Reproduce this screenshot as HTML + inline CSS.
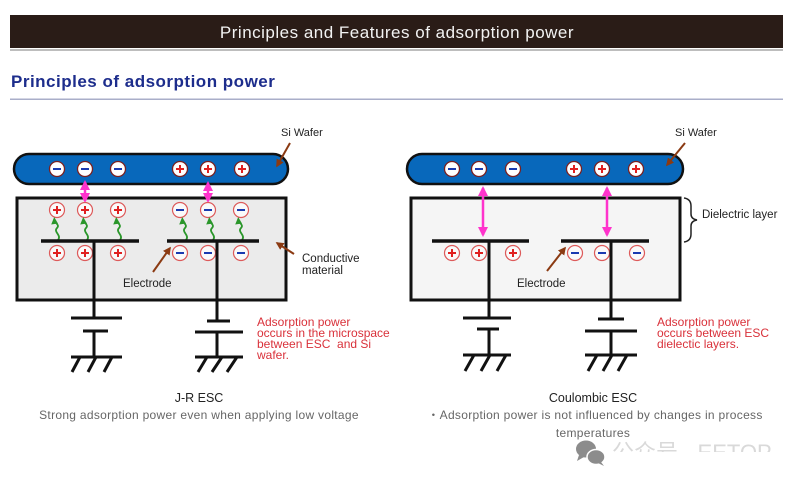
<!DOCTYPE html>
<html><head><meta charset="utf-8"><style>
html,body{margin:0;padding:0;background:#fff;}
body{width:800px;height:485px;overflow:hidden;position:relative;}
svg{position:absolute;left:0;top:0;}
text{font-family:"Liberation Sans","Noto Sans CJK SC",sans-serif;}
</style></head><body>
<svg width="800" height="485" viewBox="0 0 800 485" xmlns="http://www.w3.org/2000/svg">
<defs>
<marker id="pk" viewBox="0 0 10 10" refX="8" refY="5" markerWidth="4" markerHeight="4" orient="auto-start-reverse" markerUnits="strokeWidth"><path d="M0,0 L10,5 L0,10 z" fill="#ff33cc"/></marker>
<marker id="br" viewBox="0 0 10 10" refX="8" refY="5" markerWidth="4" markerHeight="4" orient="auto" markerUnits="strokeWidth"><path d="M0,0 L10,5 L0,10 z" fill="#8b3a12"/></marker>
<g id="wm"><circle r="7.5" fill="#fff" stroke="#7a2020" stroke-width="1.3"/><line x1="-4" y1="0" x2="4" y2="0" stroke="#1a3ab0" stroke-width="2"/></g>
<g id="wp"><circle r="7.5" fill="#fff" stroke="#7a2020" stroke-width="1.3"/><line x1="-4" y1="0" x2="4" y2="0" stroke="#e02020" stroke-width="2"/><line x1="0" y1="-4" x2="0" y2="4" stroke="#e02020" stroke-width="2"/></g>
<g id="bm"><circle r="7.5" fill="#fafafa" stroke="#dd5a5a" stroke-width="1.2"/><line x1="-4" y1="0" x2="4" y2="0" stroke="#1a3ab0" stroke-width="2"/></g>
<g id="bp"><circle r="7.5" fill="#fafafa" stroke="#dd5a5a" stroke-width="1.2"/><line x1="-4" y1="0" x2="4" y2="0" stroke="#e02020" stroke-width="2"/><line x1="0" y1="-4" x2="0" y2="4" stroke="#e02020" stroke-width="2"/></g>
<g id="ga"><path d="M3,240 C7,235 -2,232 2,228 C5,225 0,223 0,221" fill="none" stroke="#2a962a" stroke-width="1.8"/><path d="M-3.8,224.5 L3,223.5 L-0.8,217 z" fill="#2a962a"/></g>
<clipPath id="wmclip"><rect x="600" y="430" width="200" height="22"/></clipPath>
</defs>

<!-- Header -->
<rect x="10" y="49" width="773" height="2" fill="#bdbdbd"/>
<rect x="10" y="15" width="773" height="33" fill="#2a1c17"/>
<text x="397" y="38" text-anchor="middle" font-size="17" letter-spacing="0.5" fill="#f2f2f2">Principles and Features of adsorption power</text>
<text x="11" y="87" font-size="17" font-weight="bold" letter-spacing="0.5" fill="#1d2d8c">Principles of adsorption power</text>
<rect x="10" y="98.5" width="773" height="1.5" fill="#a9aec9"/>

<!-- ============ LEFT: J-R ESC ============ -->
<rect x="17" y="198" width="269" height="102" fill="#ebebeb" stroke="#111" stroke-width="3"/>
<rect x="14" y="154" width="274" height="30" rx="15" fill="#0868bb" stroke="#111" stroke-width="2.5"/>
<use href="#wm" x="57" y="169"/><use href="#wm" x="85" y="169"/><use href="#wm" x="118" y="169"/>
<use href="#wp" x="180" y="169"/><use href="#wp" x="208" y="169"/><use href="#wp" x="242" y="169"/>
<line x1="85" y1="182" x2="85" y2="201" stroke="#ff33cc" stroke-width="2.5" marker-start="url(#pk)" marker-end="url(#pk)"/>
<line x1="208" y1="183" x2="208" y2="201" stroke="#ff33cc" stroke-width="2.5" marker-start="url(#pk)" marker-end="url(#pk)"/>
<use href="#bp" x="57" y="210"/><use href="#bp" x="85" y="210"/><use href="#bp" x="118" y="210"/>
<use href="#bm" x="180" y="210"/><use href="#bm" x="208" y="210"/><use href="#bm" x="241" y="210"/>
<use href="#ga" x="55" y="0"/><use href="#ga" x="84" y="0"/><use href="#ga" x="117" y="0"/>
<use href="#ga" x="183" y="0"/><use href="#ga" x="210" y="0"/><use href="#ga" x="239" y="0"/>
<line x1="41" y1="241" x2="139" y2="241" stroke="#111" stroke-width="3.5"/>
<line x1="167" y1="241" x2="259" y2="241" stroke="#111" stroke-width="3.5"/>
<use href="#bp" x="57" y="253"/><use href="#bp" x="85" y="253"/><use href="#bp" x="118" y="253"/>
<use href="#bm" x="180" y="253"/><use href="#bm" x="208" y="253"/><use href="#bm" x="241" y="253"/>
<g stroke="#111" stroke-width="3" fill="none">
<line x1="94" y1="241" x2="94" y2="318"/>
<line x1="71" y1="318" x2="122" y2="318"/>
<line x1="83" y1="331" x2="108" y2="331"/>
<line x1="94" y1="331" x2="94" y2="357"/>
<line x1="71" y1="357" x2="122" y2="357"/>
<line x1="80" y1="357" x2="72" y2="372"/><line x1="96" y1="357" x2="88" y2="372"/><line x1="112" y1="357" x2="104" y2="372"/>
<line x1="217" y1="241" x2="217" y2="321"/>
<line x1="207" y1="321" x2="230" y2="321"/>
<line x1="195" y1="332" x2="243" y2="332"/>
<line x1="217" y1="332" x2="217" y2="357"/>
<line x1="195" y1="357" x2="243" y2="357"/>
<line x1="207" y1="357" x2="198" y2="372"/><line x1="222" y1="357" x2="212" y2="372"/><line x1="237" y1="357" x2="227" y2="372"/>
</g>
<line x1="290" y1="143" x2="277" y2="166" stroke="#8b3a12" stroke-width="2" marker-end="url(#br)"/>
<line x1="153" y1="272" x2="170" y2="248" stroke="#8b3a12" stroke-width="2" marker-end="url(#br)"/>
<line x1="294" y1="254" x2="277" y2="243" stroke="#8b3a12" stroke-width="2" marker-end="url(#br)"/>
<text x="281" y="136" font-size="11" fill="#222">Si Wafer</text>
<text x="302" y="262" font-size="11.5" fill="#222">Conductive</text>
<text x="302" y="274" font-size="11.5" fill="#222">material</text>
<text x="123" y="287" font-size="11.5" fill="#222">Electrode</text>
<g font-size="12" fill="#d9313a">
<text x="257" y="326">Adsorption power</text>
<text x="257" y="337">occurs in the microspace</text>
<text x="257" y="348" xml:space="preserve">between ESC &#160;and Si</text>
<text x="257" y="359">wafer.</text>
</g>
<text x="199" y="402" text-anchor="middle" font-size="12.5" fill="#222">J-R ESC</text>
<text x="199" y="419" text-anchor="middle" font-size="12" letter-spacing="0.3" fill="#666">Strong adsorption power even when applying low voltage</text>

<!-- ============ RIGHT: Coulombic ESC ============ -->
<rect x="411" y="198" width="269" height="102" fill="#f5f5f5" stroke="#111" stroke-width="3"/>
<rect x="407" y="154" width="276" height="30" rx="15" fill="#0868bb" stroke="#111" stroke-width="2.5"/>
<use href="#wm" x="452" y="169"/><use href="#wm" x="479" y="169"/><use href="#wm" x="513" y="169"/>
<use href="#wp" x="574" y="169"/><use href="#wp" x="602" y="169"/><use href="#wp" x="636" y="169"/>
<line x1="483" y1="188" x2="483" y2="235" stroke="#ff33cc" stroke-width="2.5" marker-start="url(#pk)" marker-end="url(#pk)"/>
<line x1="607" y1="188" x2="607" y2="235" stroke="#ff33cc" stroke-width="2.5" marker-start="url(#pk)" marker-end="url(#pk)"/>
<line x1="432" y1="241" x2="529" y2="241" stroke="#111" stroke-width="3.5"/>
<line x1="561" y1="241" x2="649" y2="241" stroke="#111" stroke-width="3.5"/>
<use href="#bp" x="452" y="253"/><use href="#bp" x="479" y="253"/><use href="#bp" x="513" y="253"/>
<use href="#bm" x="575" y="253"/><use href="#bm" x="602" y="253"/><use href="#bm" x="637" y="253"/>
<g stroke="#111" stroke-width="3" fill="none">
<line x1="489" y1="241" x2="489" y2="318"/>
<line x1="463" y1="318" x2="511" y2="318"/>
<line x1="477" y1="329" x2="499" y2="329"/>
<line x1="489" y1="329" x2="489" y2="355"/>
<line x1="463" y1="355" x2="511" y2="355"/>
<line x1="474" y1="355" x2="465" y2="371"/><line x1="490" y1="355" x2="481" y2="371"/><line x1="506" y1="355" x2="497" y2="371"/>
<line x1="611" y1="241" x2="611" y2="319"/>
<line x1="598" y1="319" x2="624" y2="319"/>
<line x1="585" y1="331" x2="637" y2="331"/>
<line x1="611" y1="331" x2="611" y2="355"/>
<line x1="585" y1="355" x2="637" y2="355"/>
<line x1="597" y1="355" x2="588" y2="371"/><line x1="612" y1="355" x2="603" y2="371"/><line x1="627" y1="355" x2="618" y2="371"/>
</g>
<path d="M684,198 Q691,199 691,206 L691,214 Q691,219 697,220 Q691,221 691,226 L691,234 Q691,241 684,242" fill="none" stroke="#222" stroke-width="1.5"/>
<line x1="685" y1="143" x2="667" y2="165" stroke="#8b3a12" stroke-width="2" marker-end="url(#br)"/>
<line x1="547" y1="271" x2="565" y2="248" stroke="#8b3a12" stroke-width="2" marker-end="url(#br)"/>
<text x="675" y="136" font-size="11" fill="#222">Si Wafer</text>
<text x="702" y="218" font-size="11.5" fill="#222">Dielectric layer</text>
<text x="517" y="287" font-size="11.5" fill="#222">Electrode</text>
<g font-size="12" fill="#d9313a">
<text x="657" y="326">Adsorption power</text>
<text x="657" y="337">occurs between ESC</text>
<text x="657" y="348">dielectic layers.</text>
</g>
<text x="593" y="402" text-anchor="middle" font-size="12.5" fill="#222">Coulombic ESC</text>
<text x="595" y="419" text-anchor="middle" font-size="12" letter-spacing="0.3" fill="#666">・Adsorption power is not influenced by changes in process</text>
<text x="593" y="437" text-anchor="middle" font-size="12" letter-spacing="0.3" fill="#666">temperatures</text>

<!-- watermark -->
<g fill="#8c8c8c">
<ellipse cx="586" cy="449" rx="10" ry="8.5"/>
<path d="M579,455 L577,461 L584,457 z"/>
<ellipse cx="596" cy="457" rx="9" ry="7.5" stroke="#fff" stroke-width="1.5"/>
<path d="M601,462 L604,466 L598,463 z"/>
</g>
<g clip-path="url(#wmclip)" fill="#d9d9d9" font-size="22">
<text x="612" y="460">公众号 · EETOP</text>
</g>
</svg>
</body></html>
